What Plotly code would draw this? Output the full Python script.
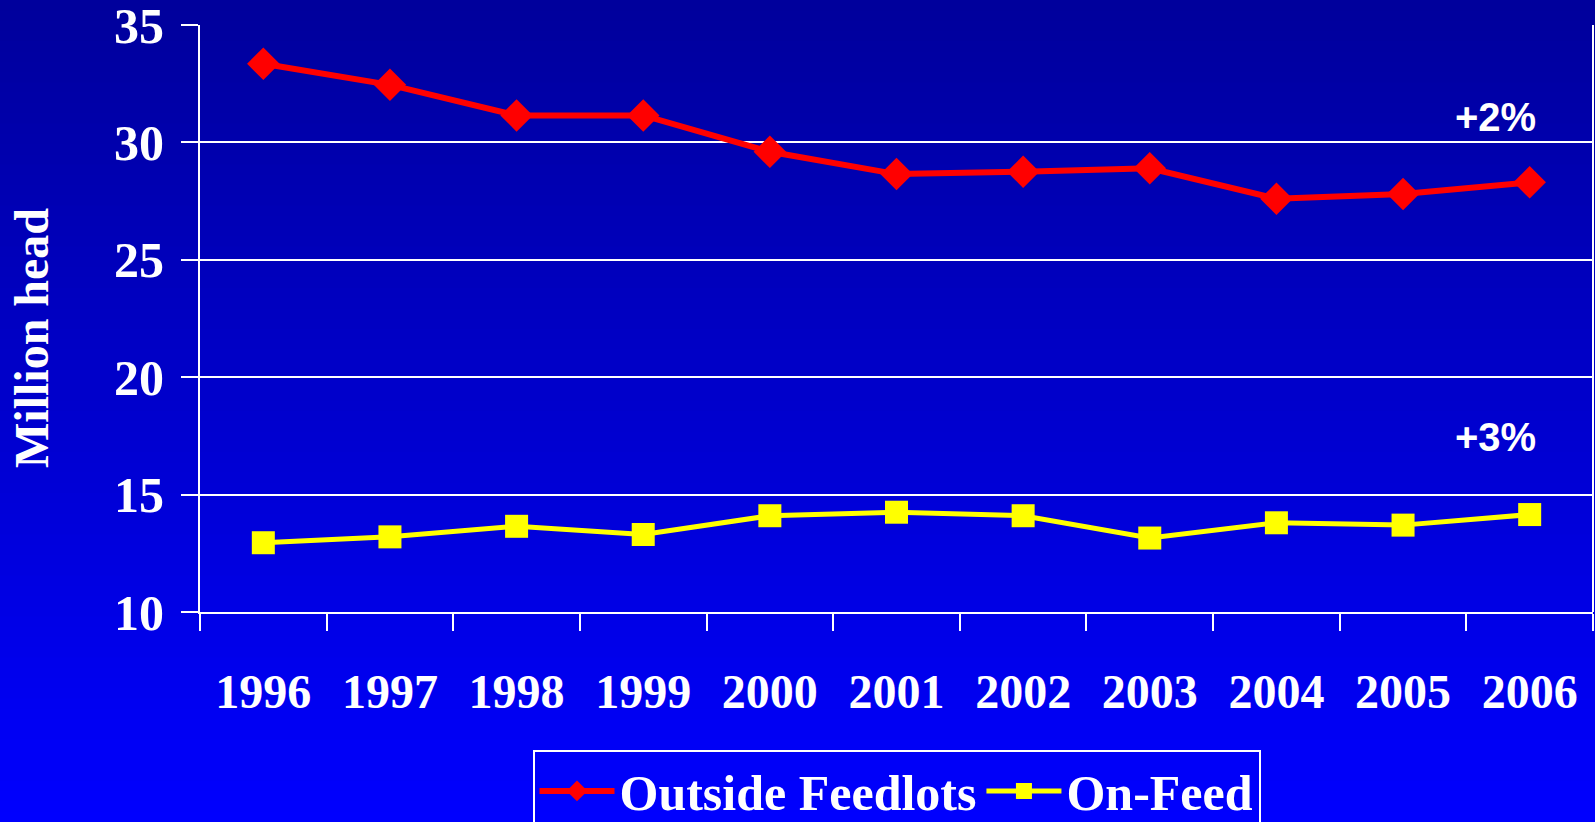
import plotly.graph_objects as go

years = ['1996', '1997', '1998', '1999', '2000', '2001', '2002', '2003', '2004', '2005', '2006']
outside_feedlots = [33.35, 32.45, 31.15, 31.15, 29.6, 28.65, 28.75, 28.9, 27.6, 27.8, 28.3]
on_feed = [12.95, 13.2, 13.65, 13.3, 14.1, 14.25, 14.1, 13.15, 13.8, 13.7, 14.15]
y_ticks = [10, 15, 20, 25, 30, 35]
notes = [('+2%', 31.1), ('+3%', 17.45)]

W, H = 1595, 822
L, R, T, B = 200, 2, 25, 210
SERIF = 'Liberation Serif, Times New Roman, serif'
WHITE = '#FFFFFF'


def bold(s):
    return f'<b>{s}</b>'


fig = go.Figure()

fig.add_trace(go.Scatter(
    x=years, y=outside_feedlots,
    mode='lines+markers', name=bold('Outside Feedlots'),
    line=dict(color='#FF0000', width=6),
    marker=dict(symbol='diamond', size=25, color='#FF0000'),
))
fig.add_trace(go.Scatter(
    x=years, y=on_feed,
    mode='lines+markers', name=bold('On-Feed'),
    line=dict(color='#FFFF00', width=5),
    marker=dict(symbol='square', size=23, color='#FFFF00'),
))

# vertical gradient background, dark navy at top to bright blue at bottom
pw, ph = W - L - R, H - T - B
steps = 80
shapes = []
for i in range(steps):
    top_px = H * i / steps
    bot_px = H * (i + 1) / steps + 1
    b = int(round(155 + 100 * (i + 0.5) / steps))
    shapes.append(dict(
        type='rect', xref='paper', yref='paper', layer='below',
        x0=-L / pw - 0.01, x1=1 + R / pw + 0.01,
        y0=(H - B - bot_px) / ph, y1=(H - B - top_px) / ph,
        fillcolor=f'rgb(0,0,{b})', line=dict(width=0),
    ))
# right border of the plot area
shapes.append(dict(type='line', xref='paper', yref='paper', x0=1, x1=1, y0=0, y1=1,
                   line=dict(color=WHITE, width=2)))

annotations = [
    dict(text=bold(t), x=1.0, xref='paper', xanchor='right', xshift=-55, y=v, yref='y',
         showarrow=False, font=dict(family='Liberation Sans, Arial, sans-serif',
                                     size=40, color=WHITE))
    for t, v in notes
]
annotations.append(dict(
    text=bold('Million head'), textangle=-90, showarrow=False,
    x=(31 - L) / pw, xref='paper', xanchor='center',
    y=(H - B - 338) / ph, yref='paper', yanchor='middle',
    font=dict(family=SERIF, size=48, color=WHITE),
))

fig.update_layout(
    width=W, height=H,
    margin=dict(l=L, r=R, t=T, b=B, autoexpand=False),
    paper_bgcolor='rgb(0,0,200)',
    plot_bgcolor='rgba(0,0,0,0)',
    shapes=shapes,
    annotations=annotations,
    font=dict(family=SERIF, color=WHITE),
    xaxis=dict(
        showgrid=False, zeroline=False, automargin=False,
        showline=True, linecolor=WHITE, linewidth=2,
        ticks='outside', ticklen=17, tickwidth=2, tickcolor=WHITE,
        tickson='boundaries', ticklabelstandoff=36,
        tickmode='array', tickvals=years, ticktext=[bold(y) for y in years],
        tickfont=dict(family=SERIF, size=48, color=WHITE),
        range=[-0.5, 10.5],
    ),
    yaxis=dict(
        range=[10, 35], automargin=False,
        tickmode='array', tickvals=y_ticks, ticktext=[bold(v) for v in y_ticks],
        showgrid=True, gridcolor=WHITE, gridwidth=2,
        zeroline=False,
        showline=True, linecolor=WHITE, linewidth=2,
        ticks='outside', ticklen=17, tickwidth=2, tickcolor=WHITE,
        ticklabelstandoff=7, ticklabeloverflow='allow',
        tickfont=dict(family=SERIF, size=50, color=WHITE),
    ),
    legend=dict(
        orientation='h', x=0.5, xanchor='center', y=-0.235, yanchor='top',
        bgcolor='rgba(0,0,0,0)', bordercolor=WHITE, borderwidth=2,
        font=dict(family=SERIF, size=50, color=WHITE),
        itemwidth=75, tracegroupgap=0,
    ),
    showlegend=True,
)

# drop the browser's default body margin so the figure fills the window
fig.write_html('out.html', config={'displayModeBar': False},
               post_script="document.body.style.margin='0';")
